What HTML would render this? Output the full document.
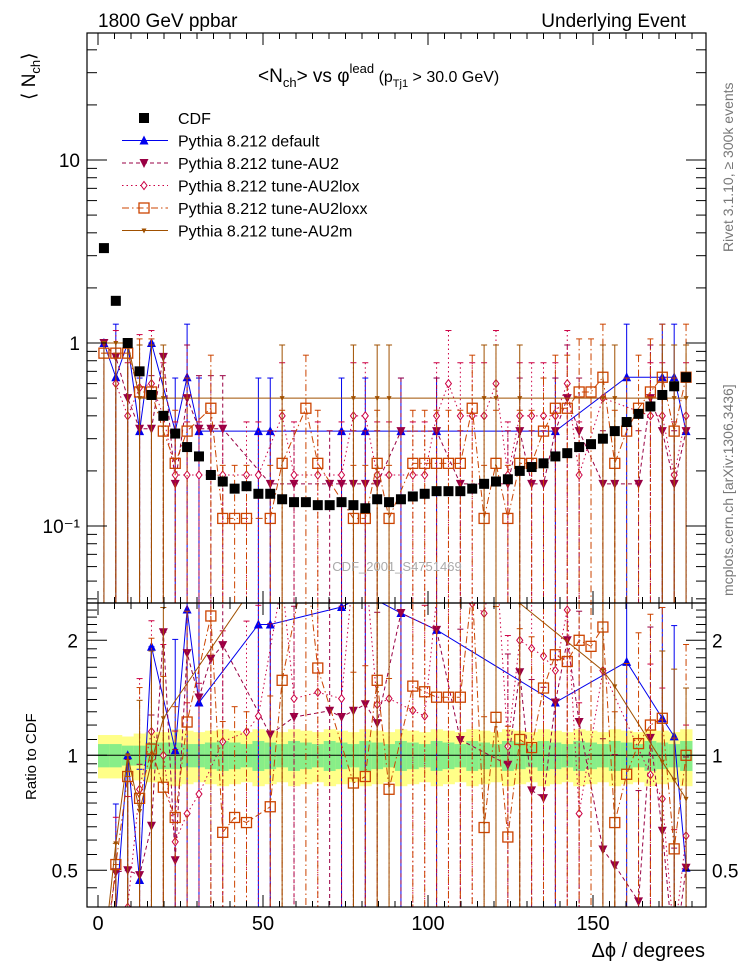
<!DOCTYPE html>
<html><head><meta charset="utf-8">
<style>
html,body{margin:0;padding:0;background:#fff;overflow:hidden;width:746px;height:972px;}
svg{display:block;font-family:"Liberation Sans",sans-serif;}
</style></head>
<body>
<svg id="chart" width="746" height="972" viewBox="0 0 746 972">
<defs>
<clipPath id="cm"><rect x="87" y="33" width="619" height="570"/></clipPath>
<clipPath id="cr"><rect x="87" y="603" width="619" height="304"/></clipPath>
</defs>
<g id="bands" clip-path="url(#cr)"></g>
<g id="main" clip-path="url(#cm)"></g>
<g id="ratio" clip-path="url(#cr)"></g>
<g id="axes"></g>
<text x="98" y="27" font-size="19">1800 GeV ppbar</text>
<text x="686" y="27" font-size="19" text-anchor="end">Underlying Event</text>
<text x="258" y="82" font-size="19">&lt;N<tspan font-size="13" dy="5">ch</tspan><tspan dy="-5">&gt; vs φ</tspan><tspan font-size="13" dy="-9">lead</tspan><tspan dy="9" font-size="16"> (p</tspan><tspan font-size="11" dy="5">Tj1</tspan><tspan dy="-5" font-size="16"> &gt; 30.0 GeV)</tspan></text>
<text transform="translate(35,100) rotate(-90)" font-size="19">⟨ N<tspan font-size="13" dy="5">ch</tspan><tspan dy="-5">⟩</tspan></text>
<text transform="translate(36,800) rotate(-90)" font-size="15">Ratio to CDF</text>
<text x="705" y="957" font-size="20" text-anchor="end">Δϕ / degrees</text>
<text transform="translate(733,252) rotate(-90)" font-size="14" fill="#777">Rivet 3.1.10, ≥ 300k events</text>
<text transform="translate(733,596) rotate(-90)" font-size="14" fill="#777">mcplots.cern.ch [arXiv:1306.3436]</text>
<text x="397" y="571" font-size="13" fill="#aaa" text-anchor="middle">CDF_2001_S4751469</text>
<g id="legend"></g>
</svg>
<script>
const NS="http://www.w3.org/2000/svg";
const binCenters=[];for(let i=0;i<50;i++)binCenters.push(1.8+3.6*i);
const cdfValues=[3.3,1.7,1.0,0.7,0.52,0.40,0.32,0.27,0.24,0.19,0.175,0.16,0.165,0.15,0.15,0.14,0.135,0.135,0.13,0.13,0.135,0.13,0.125,0.14,0.135,0.14,0.145,0.15,0.155,0.155,0.155,0.16,0.17,0.175,0.18,0.2,0.21,0.22,0.24,0.25,0.27,0.28,0.3,0.33,0.37,0.41,0.45,0.52,0.58,0.65];
const statErr=[0.07,0.07,0.06,0.06,0.08,0.08,0.08,0.07,0.07,0.08,0.09,0.08,0.07,0.09,0.08,0.07,0.09,0.08,0.07,0.09,0.08,0.07,0.09,0.08,0.07,0.09,0.08,0.07,0.09,0.08,0.07,0.09,0.08,0.07,0.09,0.08,0.07,0.09,0.08,0.07,0.09,0.08,0.07,0.09,0.08,0.07,0.09,0.08,0.07,0.09];
const totErr=[0.13,0.13,0.12,0.14,0.15,0.15,0.17,0.16,0.15,0.16,0.17,0.16,0.15,0.17,0.16,0.15,0.17,0.16,0.15,0.17,0.16,0.15,0.17,0.16,0.15,0.17,0.16,0.15,0.17,0.16,0.15,0.17,0.16,0.15,0.17,0.16,0.15,0.17,0.16,0.15,0.17,0.16,0.15,0.17,0.16,0.15,0.17,0.16,0.15,0.17];
const N=null;
const pyDefault=[1.0,0.65,1.0,0.33,1.0,N,0.33,0.65,0.33,N,N,N,N,0.33,0.33,N,N,N,N,N,0.33,N,0.33,N,N,0.33,N,N,0.33,N,N,N,N,N,N,N,N,N,0.33,N,N,N,N,N,0.65,N,N,0.65,0.65,0.33];
const pyAU2=[1.0,0.84,0.5,0.34,0.34,0.84,0.17,0.5,0.34,0.34,0.34,N,N,N,0.17,N,0.17,N,N,0.17,0.17,0.17,0.17,0.17,N,0.33,N,N,0.33,N,0.17,N,N,N,0.17,0.33,0.17,0.17,0.33,0.5,0.33,N,0.17,0.17,N,0.17,0.5,0.33,0.17,0.33];
const pyAU2lox=[N,0.6,0.4,0.57,0.6,0.4,0.19,0.19,0.19,N,0.19,N,0.19,0.19,N,0.4,0.19,N,0.19,N,0.19,0.4,0.4,0.19,0.19,N,0.19,0.19,0.4,0.6,0.4,0.4,0.4,0.6,0.19,0.4,0.4,0.4,0.4,0.6,0.19,N,0.5,N,N,N,0.4,0.4,0.19,0.4];
const pyAU2loxx=[0.88,0.88,0.88,0.54,0.54,0.33,0.22,0.33,N,0.44,0.11,0.11,0.11,N,0.11,0.22,N,0.44,0.22,N,N,0.11,0.11,0.22,0.11,N,0.22,0.22,0.22,0.22,0.22,0.44,0.11,0.22,0.11,0.22,0.22,0.33,0.44,0.44,0.54,0.54,0.65,0.22,0.33,0.44,0.54,0.65,0.33,0.65];
const pyAU2m=[1.0,1.0,1.0,0.5,0.5,0.5,N,N,N,N,N,N,N,N,N,0.5,N,N,N,N,N,0.5,N,0.5,0.5,N,N,N,N,N,N,N,0.5,0.5,N,0.5,N,N,N,N,N,N,0.5,0.5,N,N,N,0.5,0.5,0.5];
const xTicks=[0,50,100,150];
const mainTicks=[0.1,1,10];const mainTickLabels=["10⁻¹","1","10"];
const ratioTicks=[0.5,1,2];const ratioTickLabels=["0.5","1","2"];

const X0=98,XS=3.3,L=87,R=706,MT=33,MB=603,RT=603,RB=907;
const xp=v=>X0+XS*v;
const ym=v=>343-183*Math.log10(v);
const yr=v=>755.3-115*Math.log2(v);
function el(tag,attrs,parent){const e=document.createElementNS(NS,tag);for(const k in attrs)e.setAttribute(k,attrs[k]);parent.appendChild(e);return e;}
const gMain=document.getElementById('main'),gRatio=document.getElementById('ratio'),gBands=document.getElementById('bands'),gAxes=document.getElementById('axes'),gLeg=document.getElementById('legend');

const hw=3.6*XS/2;
for(let i=0;i<50;i++){
  const x=xp(binCenters[i])-hw;
  const b1=el('rect',{x:x,y:yr(1+totErr[i]),width:2*hw+0.5,height:yr(1-totErr[i])-yr(1+totErr[i]),fill:'#ffff88'},gBands);
  
  
  const b2=el('rect',{x:x,y:yr(1+statErr[i]),width:2*hw+0.5,height:yr(1-statErr[i])-yr(1+statErr[i]),fill:'#88ee88'},gBands);
  
  
}
el('line',{x1:L,x2:R,y1:yr(1),y2:yr(1),stroke:'#000','stroke-width':1},gBands);

const series=[
 {name:'default',vals:pyDefault,color:'#0000ee',dash:'',marker:'tri-up'},
 {name:'au2',vals:pyAU2,color:'#990044',dash:'4,3',marker:'tri-down'},
 {name:'au2lox',vals:pyAU2lox,color:'#cc0044',dash:'1.5,3',marker:'diamond'},
 {name:'au2loxx',vals:pyAU2loxx,color:'#cc4400',dash:'7,3,1.5,3',marker:'square'},
 {name:'au2m',vals:pyAU2m,color:'#a05000',dash:'',marker:'small-tri'}
];
function marker(g,type,x,y,c,name){
  let m;
  if(type==='tri-up')m=el('polygon',{points:`${x-4.5},${y+4} ${x+4.5},${y+4} ${x},${y-5}`,fill:c},g);
  else if(type==='tri-down')m=el('polygon',{points:`${x-4.5},${y-4} ${x+4.5},${y-4} ${x},${y+5}`,fill:c},g);
  else if(type==='diamond')m=el('polygon',{points:`${x},${y-4} ${x+3},${y} ${x},${y+4} ${x-3},${y}`,fill:'#fff',stroke:c,'stroke-width':1},g);
  else if(type==='square')m=el('rect',{x:x-5,y:y-5,width:10,height:10,fill:'none',stroke:c,'stroke-width':1.3},g);
  else m=el('polygon',{points:`${x-2.5},${y-2} ${x+2.5},${y-2} ${x},${y+3}`,fill:c},g);
  
  
}
function drawSeries(g,s,yf,ratio){
  const pts=[];
  for(let i=0;i<50;i++){const v=s.vals[i];if(v==null)continue;
    const val=ratio?v/cdfValues[i]:v;pts.push([xp(binCenters[i]),yf(val),val,i]);}
  const line=el('polyline',{points:pts.map(p=>p[0]+','+p[1]).join(' '),fill:'none',stroke:s.color,'stroke-width':1,'stroke-dasharray':s.dash},g);
  
  
  for(const p of pts){
    const v=p[2];const f=s.vals[p[3]]>=0.8?1.0:1.95;const top=yf(v*f),bot=yf(v*0.02);
    const eb=el('line',{x1:p[0],x2:p[0],y1:top,y2:bot,stroke:s.color,'stroke-width':1,'stroke-dasharray':s.dash},g);
    
    
    el('line',{x1:p[0]-3,x2:p[0]+3,y1:top,y2:top,stroke:s.color,'stroke-width':1},g);
    marker(g,s.marker,p[0],p[1],s.color,s.name+'-point');
  }
}
for(const s of series){drawSeries(gMain,s,ym,false);drawSeries(gRatio,s,yr,true);}
for(let i=0;i<50;i++){
  const r=el('rect',{x:xp(binCenters[i])-5,y:ym(cdfValues[i])-5,width:10,height:10,fill:'#000'},gMain);
  
  
}

for(const [t,b] of [[MT,MB],[RT,RB]])el('rect',{x:L,y:t,width:R-L,height:b-t,fill:'none',stroke:'#000','stroke-width':1.2},gAxes);
for(let d=0;d<=180;d+=5){const x=xp(d);const big=d%50===0;const len=big?12:6;
  for(const [t,b] of [[MT,MB],[RT,RB]]){el('line',{x1:x,x2:x,y1:b,y2:b-len,stroke:'#000'},gAxes);el('line',{x1:x,x2:x,y1:t,y2:t+len,stroke:'#000'},gAxes);}}
xTicks.forEach(v=>{const t=el('text',{x:xp(v),y:930,'font-size':20,'text-anchor':'middle'},gAxes);t.textContent=v;
  });
for(let e=-2;e<=1;e++)for(let k=1;k<=9;k++){const v=k*Math.pow(10,e);const y=ym(v);if(y<MT||y>MB)continue;const len=k===1?20:10;
  el('line',{x1:L,x2:L+len,y1:y,y2:y,stroke:'#000'},gAxes);el('line',{x1:R,x2:R-len,y1:y,y2:y,stroke:'#000'},gAxes);}
mainTicks.forEach((v,i)=>{const t=el('text',{x:80,y:ym(v)+7,'font-size':19,'text-anchor':'end'},gAxes);t.textContent=mainTickLabels[i];
  });
for(let v=0.4;v<=2.5;v+=(v<1?0.05:0.1)){const y=yr(v);if(y<RT||y>RB)continue;const big=Math.abs(v-0.5)<1e-6||Math.abs(v-1)<1e-6||Math.abs(v-2)<1e-6;const len=big?20:10;
  el('line',{x1:L,x2:L+len,y1:y,y2:y,stroke:'#000'},gAxes);el('line',{x1:R,x2:R-len,y1:y,y2:y,stroke:'#000'},gAxes);}
ratioTicks.forEach((v,i)=>{for(const [x,a] of [[78,'end'],[712,'start']]){const t=el('text',{x:x,y:yr(v)+7,'font-size':19,'text-anchor':a},gAxes);t.textContent=ratioTickLabels[i];
  }});

const legNames=['CDF','Pythia 8.212 default','Pythia 8.212 tune-AU2','Pythia 8.212 tune-AU2lox','Pythia 8.212 tune-AU2loxx','Pythia 8.212 tune-AU2m'];
legNames.forEach((n,i)=>{const y=118+i*22.5;
  const g=el('g',{},gLeg);
  
  
  if(i===0)el('rect',{x:139,y:y-5,width:10,height:10,fill:'#000'},g);
  else{const s=series[i-1];el('line',{x1:122,x2:168,y1:y,y2:y,stroke:s.color,'stroke-width':1,'stroke-dasharray':s.dash},g);marker(g,s.marker,144,y,s.color,'legend-marker');}
  const t=el('text',{x:178,y:y+6,'font-size':16},g);t.textContent=n;});
</script>
</body></html>
